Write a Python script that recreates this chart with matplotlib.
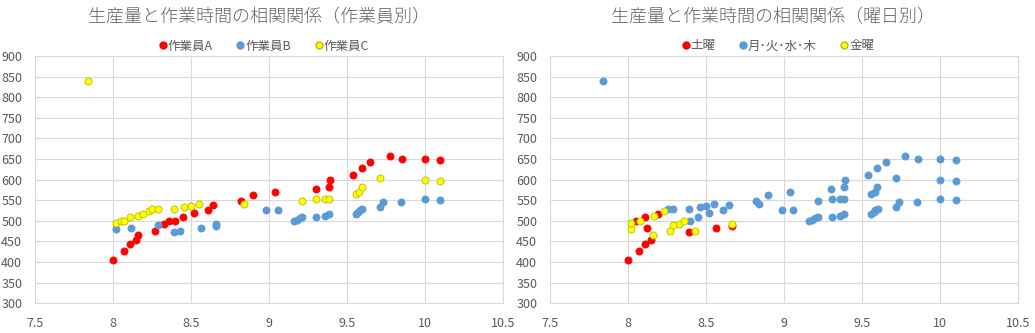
import matplotlib
matplotlib.use("Agg")
import matplotlib.pyplot as plt
from matplotlib.lines import Line2D

plt.rcParams['font.family'] = ['Noto Sans CJK JP', 'DejaVu Sans']

# 作業時間 (h) と生産量, 作業員ごと
hours_a = [8.00, 8.07, 8.11, 8.15, 8.16, 8.27, 8.33, 8.36, 8.40, 8.45, 8.52, 8.61, 8.645,
           8.82, 8.90, 9.04, 9.30, 9.385, 9.39, 9.54, 9.595, 9.65, 9.775, 9.855, 10.00, 10.10]
output_a = [405, 427, 443, 454, 466, 476, 492, 499, 499, 509, 518, 526, 538,
            548, 563, 569, 577, 582, 598, 611, 628, 642, 657, 650, 650, 647]
day_a = ['土', '土', '土', '土', '金', '金', '金', '金', '平', '平', '平', '平', '平',
         '平', '平', '平', '平', '平', '平', '平', '平', '平', '平', '平', '平', '平']

hours_b = [8.02, 8.12, 8.29, 8.39, 8.43, 8.565, 8.665, 8.665, 8.985, 9.06, 9.16, 9.18, 9.20,
           9.215, 9.305, 9.36, 9.385, 9.56, 9.575, 9.585, 9.60, 9.715, 9.735, 9.85, 10.00, 10.10]
output_b = [480, 482, 490, 472, 475, 482, 487, 493, 526, 526, 499, 503, 507,
            510, 510, 512, 517, 517, 522, 527, 529, 533, 545, 546, 552, 550]
day_b = ['金', '土', '金', '土', '金', '土', '土', '金', '平', '平', '平', '平', '平',
         '平', '平', '平', '平', '平', '平', '平', '平', '平', '平', '平', '平', '平']

hours_c = [7.84, 8.02, 8.055, 8.075, 8.11, 8.165, 8.195, 8.23, 8.255, 8.29, 8.39, 8.46, 8.50,
           8.555, 8.84, 9.215, 9.305, 9.36, 9.385, 9.56, 9.58, 9.595, 9.715, 10.00, 10.10]
output_c = [840, 494, 500, 500, 509, 512, 516, 524, 528, 528, 530, 533, 535,
            541, 540, 547, 552, 552, 552, 565, 571, 581, 603, 600, 596]
day_c = ['平', '金', '土', '金', '土', '金', '土', '金', '平', '平', '平', '平', '平',
         '平', '平', '平', '平', '平', '平', '平', '平', '平', '平', '平', '平']

worker_labels = ['作業員A', '作業員B', '作業員C']
day_codes = ['土', '平', '金']
day_labels = ['土曜', '月･火･水･木', '金曜']

x_ticks = [7.5, 8, 8.5, 9, 9.5, 10, 10.5]
x_tick_labels = ['7.5', '8', '8.5', '9', '9.5', '10', '10.5']
y_ticks = [300, 350, 400, 450, 500, 550, 600, 650, 700, 750, 800, 850, 900]

face = ['#FF0000', '#5B9BD5', '#FFFF00']
edge = ['#FF0000', '#5B9BD5', '#B8BC00']
TEXT = '#595959'
GRID = '#D9D9D9'

W, H = 1035, 333
fig = plt.figure(figsize=(W / 100, H / 100), dpi=100)


def setup(ax, title, title_x, legend_x, labels):
    ax.set_xlim(7.5, 10.5)
    ax.set_ylim(300, 900)
    ax.set_xticks(x_ticks)
    ax.set_xticklabels(x_tick_labels)
    ax.set_yticks(y_ticks)
    ax.grid(True, color=GRID, linewidth=0.8)
    ax.set_axisbelow(True)
    for s in ax.spines.values():
        s.set_color(GRID)
        s.set_linewidth(0.8)
    ax.tick_params(length=0, colors=TEXT, labelsize=9)
    ax.tick_params(axis='y', pad=9)
    ax.tick_params(axis='x', pad=10)
    fig.text(title_x / W, 1 - 17 / H, title, ha='center', va='center',
             fontsize=13, color='#666666', fontweight='light')
    handles = [Line2D([], [], linestyle='none', marker='o', markersize=5,
                      markerfacecolor=face[i], markeredgecolor=edge[i])
               for i in range(3)]
    fig.legend(handles, labels, loc='center', bbox_to_anchor=(legend_x / W, 1 - 46 / H),
               ncol=3, frameon=False, fontsize=9, labelcolor=TEXT,
               handlelength=0.6, handletextpad=0.1, columnspacing=1.9,
               borderpad=0)


ax1 = fig.add_axes([34.7 / W, 29.7 / H, 468 / W, 247.3 / H])
ax2 = fig.add_axes([549.7 / W, 29.7 / H, 468.6 / W, 247.3 / H])

hours = [hours_a, hours_b, hours_c]
outputs = [output_a, output_b, output_c]
days = [day_a, day_b, day_c]

for i in range(3):
    ax1.scatter(hours[i], outputs[i], s=26, c=face[i], edgecolors=edge[i],
                linewidths=0.6, zorder=3 + i)

for j, code in enumerate(day_codes):
    xs, ys = [], []
    for i in range(3):
        for h, o, d in zip(hours[i], outputs[i], days[i]):
            if d == code:
                xs.append(h)
                ys.append(o)
    ax2.scatter(xs, ys, s=26, c=face[j], edgecolors=edge[j],
                linewidths=0.6, zorder=3 + j)

setup(ax1, '生産量と作業時間の相関関係（作業員別）', 259, 264, worker_labels)
setup(ax2, '生産量と作業時間の相関関係（曜日別）', 773, 778, day_labels)

fig.savefig('out.png', dpi=100)
